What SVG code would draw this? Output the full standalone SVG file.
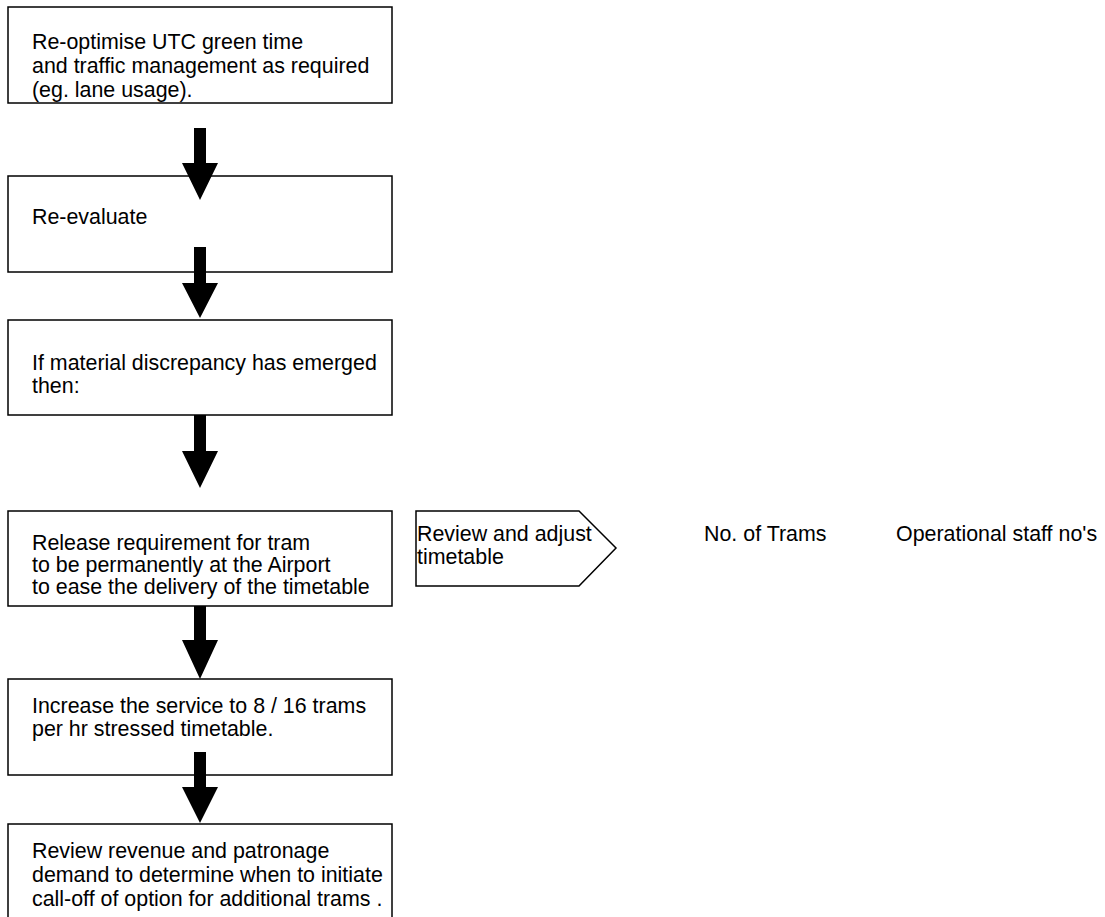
<svg xmlns="http://www.w3.org/2000/svg" width="1105" height="917" viewBox="0 0 1105 917">
<style>
.box{fill:#fff;stroke:#000;stroke-width:1.5}
.t{font-family:"Liberation Sans",Arial,sans-serif;font-size:21.4px;fill:#000}
.arr{fill:#000;stroke:none}
</style>
<rect x="0" y="0" width="1105" height="917" fill="#fff"/>
<g id="n1"><rect class="box" x="8" y="7" width="384" height="96"/>
<text class="t" x="32" y="49">Re-optimise UTC green time</text>
<text class="t" x="32" y="73">and traffic management as required</text>
<text class="t" x="32" y="97">(eg. lane usage).</text></g>
<g id="n2"><rect class="box" x="8" y="176" width="384" height="96"/>
<text class="t" x="32" y="224">Re-evaluate</text></g>
<g id="n3"><rect class="box" x="8" y="320" width="384" height="95"/>
<text class="t" x="32" y="370">If material discrepancy has emerged</text>
<text class="t" x="32" y="393">then:</text></g>
<g id="n4"><rect class="box" x="8" y="511" width="384" height="95"/>
<text class="t" x="32" y="550">Release requirement for tram</text>
<text class="t" x="32" y="572">to be permanently at the Airport</text>
<text class="t" x="32" y="594">to ease the delivery of the timetable</text></g>
<g id="n5"><rect class="box" x="8" y="679" width="384" height="96"/>
<text class="t" x="32" y="713">Increase the service to 8 / 16 trams</text>
<text class="t" x="32" y="736">per hr stressed timetable.</text></g>
<g id="n6"><rect class="box" x="8" y="824" width="384" height="110"/>
<text class="t" x="32" y="858">Review revenue and patronage</text>
<text class="t" x="32" y="882">demand to determine when to initiate</text>
<text class="t" x="32" y="906">call-off of option for additional trams .</text></g>
<g id="n7"><polygon class="box" points="416,511 579,511 616,548 579,586 416,586"/>
<text class="t" x="417" y="541">Review and adjust</text>
<text class="t" x="417" y="564">timetable</text></g>
<g id="n8"><text class="t" x="704" y="541">No. of Trams</text></g>
<g id="n9"><text class="t" x="896" y="541">Operational staff no's</text></g>
<g id="connectors">
<polygon class="arr" points="194,128 206,128 206,163 218,163 200,200 182,163 194,163"/>
<polygon class="arr" points="194,247 206,247 206,283 218,283 200,318 182,283 194,283"/>
<polygon class="arr" points="194,415 206,415 206,451 218,451 200,488 182,451 194,451"/>
<polygon class="arr" points="194,606 206,606 206,640 218,640 200,679 182,640 194,640"/>
<polygon class="arr" points="194,752 206,752 206,787 218,787 200,823 182,787 194,787"/>
</g>
</svg>
